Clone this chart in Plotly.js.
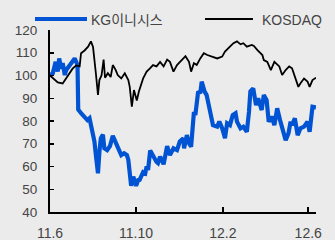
<!DOCTYPE html>
<html>
<head>
<meta charset="utf-8">
<script src="https://cdn.plot.ly/plotly-3.0.1.min.js"></script>
<style>html,body{margin:0;padding:0;background:#ebebeb;}#chart{width:335px;height:240px;}</style>
</head>
<body>
<div id="chart"></div>
<script>
const seriesNames = ['KG이니시스', 'KOSDAQ'];

const kgDates = ['2011-06-01','2011-06-05','2011-06-09','2011-06-12','2011-06-14','2011-06-17','2011-06-19','2011-06-22','2011-06-24','2011-06-29',
'2011-07-03','2011-07-06','2011-07-10','2011-07-11','2011-07-15','2011-07-20','2011-07-24','2011-07-27','2011-07-29','2011-08-01',
'2011-08-03','2011-08-05','2011-08-08','2011-08-10','2011-08-12','2011-08-15','2011-08-17','2011-08-21','2011-08-25','2011-08-29',
'2011-09-03','2011-09-05','2011-09-10','2011-09-14','2011-09-18','2011-09-20','2011-09-24','2011-09-27','2011-10-01','2011-10-04',
'2011-10-06','2011-10-11','2011-10-14','2011-10-16','2011-10-18','2011-10-21','2011-10-25','2011-10-30','2011-11-01','2011-11-04',
'2011-11-09','2011-11-14','2011-11-18','2011-11-23','2011-11-28','2011-12-02','2011-12-07','2011-12-08','2011-12-12','2011-12-15',
'2011-12-18','2011-12-22','2011-12-24','2011-12-28','2011-12-31','2012-01-02','2012-01-06','2012-01-09','2012-01-12','2012-01-15',
'2012-01-18','2012-01-24','2012-01-27','2012-01-31','2012-02-04','2012-02-07','2012-02-11','2012-02-15','2012-02-19','2012-02-21',
'2012-02-26','2012-03-01','2012-03-06','2012-03-09','2012-03-11','2012-03-15','2012-03-19','2012-03-22','2012-03-27','2012-03-30',
'2012-04-03','2012-04-06','2012-04-10','2012-04-14','2012-04-18','2012-04-22','2012-04-25','2012-04-30','2012-05-04','2012-05-07',
'2012-05-09','2012-05-13','2012-05-17','2012-05-21','2012-05-26','2012-05-31','2012-06-03','2012-06-07','2012-06-12'];
const kgValues = [100,101,106,101.7,107.5,103,105.4,100.2,102.4,104.6,
106.8,107.5,104.6,85,83.4,82,80.4,81.2,78.2,75.3,
71,65,57,66.3,72.4,74,68,67.2,69,73.5,
69.5,68,65,65.8,65,62.9,51.5,55.5,51.5,54,
54.1,57.5,57,60,58.5,67,64.3,62,61.5,64.3,
61,69,65,68,67.2,71,72.4,68,73.8,70.2,
68.7,84,82.6,93,92.2,97.3,93,91.4,87,82.6,
78.2,77.5,79.7,76.8,72.4,79,78.2,82.6,83.4,79.7,
76.8,77.5,75.3,84,93,94.3,87,90,84.8,91.4,
89.2,79.7,82,78.2,85.6,80.4,76.8,71.6,74.6,79.7,
78.2,81.2,73.8,76.8,77.5,79.7,75.3,86.3,86];

const kosdaqDates = ['2011-06-01','2011-06-05','2011-06-09','2011-06-12','2011-06-19','2011-06-22','2011-06-26','2011-07-03','2011-07-08','2011-07-13',
'2011-07-15','2011-07-20','2011-07-25','2011-07-27','2011-07-29','2011-08-01','2011-08-03','2011-08-05','2011-08-08','2011-08-10',
'2011-08-13','2011-08-16','2011-08-18','2011-08-22','2011-08-26','2011-08-29','2011-09-02','2011-09-05','2011-09-10','2011-09-15',
'2011-09-20','2011-09-22','2011-09-25','2011-09-28','2011-10-02','2011-10-05','2011-10-11','2011-10-16','2011-10-21','2011-10-25',
'2011-10-30','2011-11-04','2011-11-09','2011-11-14','2011-11-18','2011-11-23','2011-11-28','2011-12-05','2011-12-10','2011-12-15',
'2011-12-18','2011-12-22','2011-12-26','2011-12-31','2012-01-05','2012-01-10','2012-01-17','2012-01-24','2012-01-31','2012-02-04',
'2012-02-11','2012-02-16','2012-02-21','2012-02-26','2012-03-01','2012-03-06','2012-03-13','2012-03-16','2012-03-21','2012-03-28',
'2012-03-30','2012-04-04','2012-04-09','2012-04-14','2012-04-21','2012-04-25','2012-04-30','2012-05-05','2012-05-09','2012-05-14',
'2012-05-18','2012-05-21','2012-05-26','2012-05-31','2012-06-03','2012-06-07','2012-06-12'];
const kosdaqValues = [100,99,98,97,96.5,98,100,103,104.4,104,
109.8,111,112.7,114,115,112.5,105,101,91.5,98,
100,107,99,101,99.3,104.6,102.5,100.2,98.7,101,
98,95,86.3,93.6,89,93,98.7,101.7,103.2,104.6,
104,106,104,107,106,101.7,104.6,106.8,108.5,106,
101.7,105.4,104.6,107.5,109.8,109,108.3,107.5,108.3,110.5,
112.7,114.2,115,113.7,114.2,112.7,113.4,113,111.2,109,
106.8,106,102.4,106,104,100.2,102.4,104,103.2,98,
95,96.6,98.7,97.3,95,98,99];

const xTickVals = ['2011-06-01','2011-10-01','2012-02-01','2012-06-01'];
const xTickText = ['11.6','11.10','12.2','12.6'];
const yTickVals = [40,50,60,70,80,90,100,110,120];

const blue = 'rgb(0,84,212)';
const fontFam = 'Liberation Sans, Arial, "Noto Sans CJK KR", sans-serif';

const traces = [
  {x: kgDates, y: kgValues, type: 'scatter', mode: 'lines', name: seriesNames[0],
   line: {color: blue, width: 4.2}, showlegend: false},
  {x: kosdaqDates, y: kosdaqValues, type: 'scatter', mode: 'lines', name: seriesNames[1],
   line: {color: '#000000', width: 1.8}, showlegend: false}
];

const layout = {
  width: 335, height: 240,
  margin: {l: 50, r: 19, t: 30, b: 28},
  paper_bgcolor: '#ebebeb', plot_bgcolor: '#ebebeb',
  font: {family: fontFam, size: 13, color: '#444'},
  xaxis: {type: 'date', range: ['2011-06-01','2012-06-12'],
    tickvals: xTickVals, ticktext: xTickText,
    showgrid: false, zeroline: false, showline: true, linecolor: '#000', linewidth: 2,
    ticks: 'inside', ticklen: 5, tickwidth: 2, tickcolor: '#000',
    ticklabelstandoff: 7, tickfont: {size: 14, color: '#444'}},
  yaxis: {range: [40,120], tickvals: yTickVals,
    showgrid: false, zeroline: false, showline: true, linecolor: '#000', linewidth: 2,
    ticks: 'inside', ticklen: 4, tickwidth: 1.5, tickcolor: '#000',
    ticklabelstandoff: 8, tickfont: {size: 13.5, color: '#444'}},
  shapes: [
    {type: 'line', xref: 'paper', yref: 'paper', x0: -0.0564, x1: 0.139, y0: 1.0604, y1: 1.0604,
     line: {color: blue, width: 4}},
    {type: 'line', xref: 'paper', yref: 'paper', x0: 0.5827, x1: 0.763, y0: 1.0604, y1: 1.0604,
     line: {color: '#000', width: 1.8}}
  ],
  annotations: [
    {xref: 'paper', yref: 'paper', x: 0.1466, y: 1.055, xanchor: 'left', yanchor: 'middle',
     text: seriesNames[0], showarrow: false, font: {size: 14, color: '#444'}},
    {xref: 'paper', yref: 'paper', x: 0.789, y: 1.055, xanchor: 'left', yanchor: 'middle',
     text: seriesNames[1], showarrow: false, font: {size: 14, color: '#444'}}
  ]
};

Plotly.newPlot('chart', traces, layout, {staticPlot: true, displayModeBar: false});
</script>
</body>
</html>
